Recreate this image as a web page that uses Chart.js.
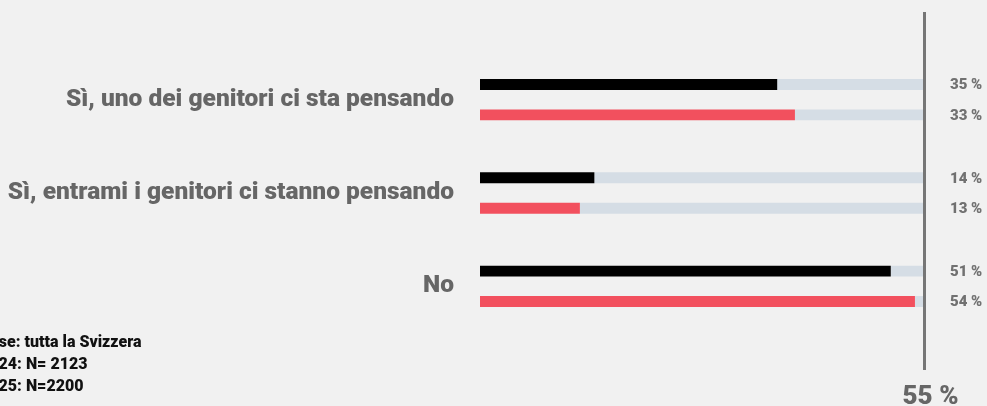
<!DOCTYPE html>
<html>
<head>
<meta charset="utf-8">
<script src="https://cdn.jsdelivr.net/npm/chart.js@4"></script>
<style>
    html, body { margin: 0; padding: 0; background: #f1f1f1; }
    #wrap { position: relative; width: 987px; height: 406px; }
</style>
</head>
<body>
<div id="wrap"><canvas id="chart"></canvas></div>
<script>
// categories and values
const categories = ['Sì, uno dei genitori ci sta pensando', 'Sì, entrami i genitori ci stanno pensando', 'No'];
const values2024 = [36.9, 14.2, 51.0];
const values2025 = [39.1, 12.4, 54.0];
const labels2024 = ['35 %', '14 %', '51 %'];
const labels2025 = ['33 %', '13 %', '54 %'];
const scaleMax = 55;
const scaleMaxLabel = '55 %';
const footnote = ['Base: tutta la Svizzera', '2024: N= 2123', '2025: N=2200'];

const COLORS = {
    y2024: '#000000',
    y2025: '#f2505e',
    track: '#d5dde5',
    text: '#666666',
    value: '#717171',
    line: '#767676'
};

const FONT = 'Roboto, "Noto Sans", sans-serif';

// value labels, max line and footnote
const overlay = {
    id: 'overlay',
    afterDatasetsDraw(chart) {
        const ctx = chart.ctx;
        const x = chart.scales.x;
        const area = chart.chartArea;
        const lineX = x.getPixelForValue(scaleMax) + 1.5;

        ctx.save();
        ctx.strokeStyle = COLORS.line;
        ctx.lineWidth = 3;
        ctx.beginPath();
        ctx.moveTo(lineX, 12);
        ctx.lineTo(lineX, 370);
        ctx.stroke();

        ctx.fillStyle = COLORS.value;
        ctx.font = `900 15px ${FONT}`;
        ctx.textAlign = 'left';
        ctx.textBaseline = 'middle';
        [[0, labels2024], [2, labels2025]].forEach(([dsIndex, texts]) => {
            chart.getDatasetMeta(dsIndex).data.forEach((bar, i) => {
                ctx.fillText(texts[i], area.right + 27, bar.y + 1);
            });
        });

        ctx.fillStyle = COLORS.text;
        ctx.font = `900 26px ${FONT}`;
        ctx.textAlign = 'center';
        ctx.textBaseline = 'alphabetic';
        ctx.fillText(scaleMaxLabel, lineX + 6, 404);

        ctx.fillStyle = '#111111';
        ctx.font = `900 16px ${FONT}`;
        ctx.textAlign = 'left';
        footnote.forEach((line, i) => ctx.fillText(line, -20, 347 + i * 22));
        ctx.restore();
    }
};

function draw() {
    new Chart(document.getElementById('chart'), {
        type: 'bar',
        data: {
            labels: categories,
            datasets: [
                { label: '2024', data: values2024, backgroundColor: COLORS.y2024, stack: 'a' },
                { label: '2024 rest', data: values2024.map(v => scaleMax - v), backgroundColor: COLORS.track, stack: 'a' },
                { label: '2025', data: values2025, backgroundColor: COLORS.y2025, stack: 'b' },
                { label: '2025 rest', data: values2025.map(v => scaleMax - v), backgroundColor: COLORS.track, stack: 'b' }
            ]
        },
        options: {
            indexAxis: 'y',
            responsive: true,
            maintainAspectRatio: false,
            animation: false,
            layout: { padding: { top: 53, bottom: 73, right: 64, left: 0 } },
            datasets: { bar: { categoryPercentage: 0.652, barPercentage: 0.36 } },
            scales: {
                x: { stacked: true, min: 0, max: scaleMax, display: false },
                y: {
                    grid: { display: false, drawTicks: false },
                    border: { display: false },
                    ticks: { color: COLORS.text, font: { family: FONT, size: 24.5, weight: 900 }, padding: 26 },
                    afterFit: s => { s.width = 480; }
                }
            },
            plugins: { legend: { display: false }, tooltip: { enabled: false } }
        },
        plugins: [overlay]
    });
}

document.fonts.load('900 24px Roboto').catch(() => {}).then(draw);
</script>
</body>
</html>
